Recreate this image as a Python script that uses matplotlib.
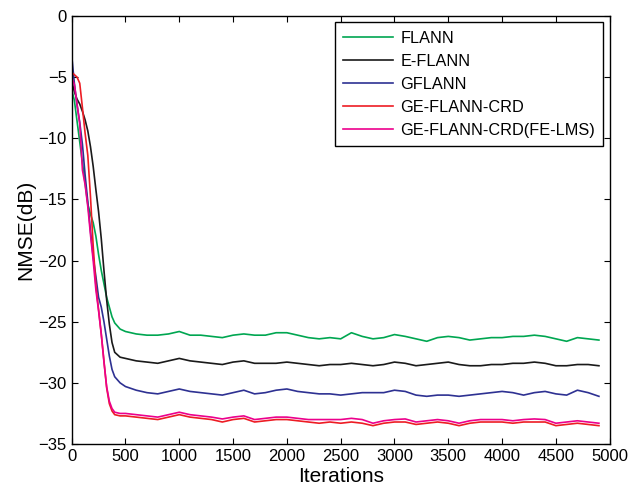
import matplotlib
matplotlib.use("Agg")
import matplotlib.pyplot as plt

plt.rcParams["font.family"] = ["Liberation Sans", "DejaVu Sans"]

# iteration grid shared by all curves
ITERS = [0, 25, 50, 75, 100, 125, 150, 175, 200, 225, 250, 275, 300, 325, 350, 375,
         400, 450, 500, 600, 700, 800, 900, 1000, 1100, 1200, 1300, 1400, 1500, 1600,
         1700, 1800, 1900, 2000, 2100, 2200, 2300, 2400, 2500, 2600, 2700, 2800, 2900,
         3000, 3100, 3200, 3300, 3400, 3500, 3600, 3700, 3800, 3900, 4000, 4100, 4200,
         4300, 4400, 4500, 4600, 4700, 4800, 4900]

FLANN = [-6.0, -6.9, -8.6, -10.3, -12.0, -13.7, -15.4, -16.2, -16.9, -18.0, -19.5,
         -20.8, -21.9, -23.0, -23.8, -24.6, -25.1, -25.6, -25.8, -26.0, -26.1, -26.1,
         -26.0, -25.8, -26.1, -26.1, -26.2, -26.3, -26.1, -26.0, -26.1, -26.1, -25.9,
         -25.9, -26.1, -26.3, -26.4, -26.3, -26.4, -25.9, -26.2, -26.4, -26.3, -26.05,
         -26.2, -26.4, -26.6, -26.3, -26.2, -26.3, -26.5, -26.4, -26.3, -26.3, -26.2,
         -26.2, -26.1, -26.2, -26.4, -26.6, -26.3, -26.4, -26.5]

E_FLANN = [-5.3, -6.2, -6.8, -7.2, -7.8, -8.5, -9.4, -10.7, -12.3, -14.2, -16.0,
           -18.2, -20.8, -23.2, -25.2, -26.7, -27.5, -27.9, -28.0, -28.2, -28.3, -28.4,
           -28.2, -28.0, -28.2, -28.3, -28.4, -28.5, -28.3, -28.2, -28.4, -28.4, -28.4,
           -28.3, -28.4, -28.5, -28.6, -28.5, -28.5, -28.4, -28.5, -28.6, -28.5, -28.3,
           -28.4, -28.6, -28.5, -28.4, -28.3, -28.5, -28.6, -28.6, -28.5, -28.5, -28.4,
           -28.4, -28.3, -28.4, -28.6, -28.6, -28.5, -28.5, -28.6]

GFLANN = [-3.2, -5.5, -7.3, -8.7, -10.5, -13.0, -15.2, -17.6, -19.7, -21.3, -23.0,
          -23.8, -25.0, -26.4, -27.8, -28.9, -29.5, -30.0, -30.3, -30.6, -30.8, -30.9,
          -30.7, -30.5, -30.7, -30.8, -30.9, -31.0, -30.8, -30.6, -30.9, -30.8, -30.6,
          -30.5, -30.7, -30.8, -30.9, -30.9, -31.0, -30.9, -30.8, -30.8, -30.8, -30.6,
          -30.7, -31.0, -31.1, -31.0, -31.0, -31.1, -31.0, -30.9, -30.8, -30.7, -30.8,
          -31.0, -30.8, -30.7, -30.9, -31.0, -30.6, -30.8, -31.1]

GE_CRD = [-4.6, -4.8, -5.0, -5.5, -7.5, -9.6, -11.4, -14.8, -18.8, -22.0, -24.0,
          -26.0, -28.2, -30.4, -31.7, -32.3, -32.6, -32.7, -32.7, -32.8, -32.9, -33.0,
          -32.8, -32.6, -32.8, -32.9, -33.0, -33.2, -33.0, -32.9, -33.2, -33.1, -33.0,
          -33.0, -33.1, -33.2, -33.3, -33.2, -33.3, -33.2, -33.3, -33.5, -33.3, -33.2,
          -33.2, -33.4, -33.3, -33.2, -33.3, -33.5, -33.3, -33.2, -33.2, -33.2, -33.3,
          -33.2, -33.2, -33.2, -33.5, -33.4, -33.3, -33.4, -33.5]

GE_CRD_FELMS = [-5.0, -5.6, -7.2, -8.8, -12.6, -13.8, -15.6, -17.9, -20.0, -22.4, -24.1,
                -26.0, -28.3, -30.3, -31.5, -32.1, -32.4, -32.5, -32.5, -32.6, -32.7,
                -32.8, -32.6, -32.4, -32.6, -32.7, -32.8, -32.95, -32.8, -32.7, -33.0,
                -32.9, -32.8, -32.8, -32.9, -33.0, -33.0, -33.0, -33.0, -32.9, -33.0,
                -33.3, -33.1, -33.0, -32.95, -33.2, -33.1, -33.0, -33.1, -33.3, -33.1,
                -33.0, -33.0, -33.0, -33.1, -33.0, -32.95, -33.0, -33.3, -33.2, -33.1,
                -33.2, -33.3]

SERIES = [
    ("FLANN", FLANN, "#00a651"),
    ("E-FLANN", E_FLANN, "#1a1a1a"),
    ("GFLANN", GFLANN, "#2e3192"),
    ("GE-FLANN-CRD", GE_CRD, "#ed1c24"),
    ("GE-FLANN-CRD(FE-LMS)", GE_CRD_FELMS, "#ec008c"),
]

fig = plt.figure(figsize=(6.32, 4.98), dpi=100)
ax = fig.add_axes([0.1134, 0.1084, 0.8513, 0.8595])

for label, ys, color in SERIES:
    ax.plot(ITERS, ys, color=color, lw=1.2, label=label)

ax.set_xlim(0, 5000)
ax.set_ylim(-35, 0)
ax.set_xticks(range(0, 5001, 500))
ax.set_yticks(range(-35, 1, 5))
ax.tick_params(direction="in", top=True, right=True, labelsize=12, length=4, width=0.8)
for s in ax.spines.values():
    s.set_linewidth(1.0)
ax.set_xlabel("Iterations", fontsize=15, labelpad=2)
ax.set_ylabel("NMSE(dB)", fontsize=15, labelpad=2)

leg = ax.legend(loc="upper right", fontsize=11.7, frameon=True, fancybox=False,
                edgecolor="black", framealpha=1, handlelength=3.1,
                handletextpad=0.45, borderpad=0.5, borderaxespad=0.4,
                labelspacing=0.5)
leg.get_frame().set_linewidth(1.0)

fig.savefig("out.png", dpi=100)
